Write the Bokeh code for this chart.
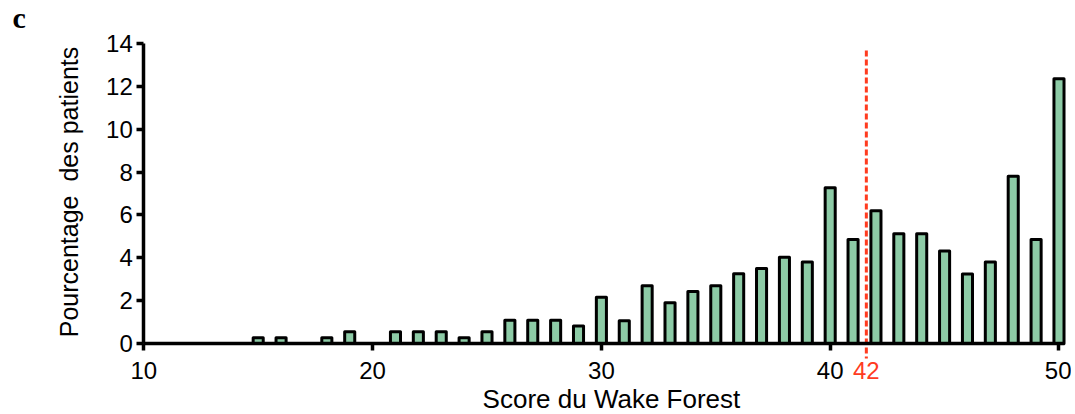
import math
from bokeh.plotting import figure
from bokeh.models import Range1d, Label, FixedTicker
from bokeh.embed import file_html
from bokeh.resources import INLINE

scores = [15, 16, 18, 19, 21, 22, 23, 24, 25, 26, 27, 28, 29, 30, 31, 32, 33, 34,
          35, 36, 37, 38, 39, 40, 41, 42, 43, 44, 45, 46, 47, 48, 49, 50]
percent = [0.27, 0.27, 0.27, 0.55, 0.55, 0.55, 0.55, 0.27, 0.55, 1.08, 1.08, 1.08,
           0.82, 2.16, 1.06, 2.7, 1.9, 2.43, 2.7, 3.25, 3.5, 4.03, 3.8, 7.27, 4.85,
           6.19, 5.12, 5.12, 4.32, 3.24, 3.8, 7.8, 4.85, 12.36]
x_ticks = [10, 20, 30, 40, 50]
y_ticks = [0, 2, 4, 6, 8, 10, 12, 14]
cutoff_pos = 41.58
cutoff_label = "42"
x_title = "Score du Wake Forest"
y_title = "Pourcentage\u00a0 des patients"
panel_letter = "c"

FONT = "Liberation Sans"
RED = "#ff3b1f"

# whole canvas is the plot frame so nothing drawn outside the axes gets clipped
p = figure(width=1071, height=414, output_backend="svg", toolbar_location=None,
           x_range=Range1d(3.737, 50.547), y_range=Range1d(-3.313, 16.007),
           min_border=0)
p.outline_line_color = None
p.grid.grid_line_color = None
p.background_fill_color = None
p.border_fill_color = "white"

p.vbar(x=scores, top=percent, width=0.44, bottom=0, fill_color="#8dcba6",
       line_color="black", line_width=3, line_join="round")

p.segment(x0=[cutoff_pos], y0=[13.67], x1=[cutoff_pos], y1=[-0.7],
          line_color=RED, line_width=3, line_dash="6 3")

for ax in (p.xaxis[0], p.yaxis[0]):
    ax.axis_line_width = 3.5
    ax.major_tick_line_width = 3.5
    ax.major_tick_out = 7
    ax.major_tick_in = 0
    ax.minor_tick_line_color = None
    ax.major_label_text_font = FONT
    ax.major_label_text_font_size = "24px"
    ax.major_label_text_color = "black"

p.xaxis.fixed_location = 0
p.yaxis.fixed_location = 10
p.xaxis.bounds = (10, 50.25)
p.yaxis.bounds = (0, 14)
p.xaxis.ticker = FixedTicker(ticks=x_ticks)
p.yaxis.ticker = FixedTicker(ticks=y_ticks)
p.xaxis.major_label_standoff = 11
p.yaxis.major_label_standoff = 4

p.add_layout(Label(x=cutoff_pos, y=0, y_offset=-26.5, text=cutoff_label,
                   text_align="center", text_baseline="middle",
                   text_color=RED, text_font=FONT, text_font_size="24px"))
p.add_layout(Label(x=30.44, y=0, y_offset=-55, text=x_title,
                   text_align="center", text_baseline="middle",
                   text_color="black", text_font=FONT, text_font_size="26px"))
p.add_layout(Label(x=6.75, y=7.07, angle=math.pi / 2, text=y_title,
                   text_align="center", text_baseline="middle",
                   text_color="black", text_font=FONT, text_font_size="25px"))
p.add_layout(Label(x=4.26, y=15.21, text=panel_letter,
                   text_align="left", text_baseline="middle",
                   text_color="black", text_font="Liberation Serif",
                   text_font_style="bold", text_font_size="30px"))

open("out.html", "w").write(file_html(p, INLINE))
